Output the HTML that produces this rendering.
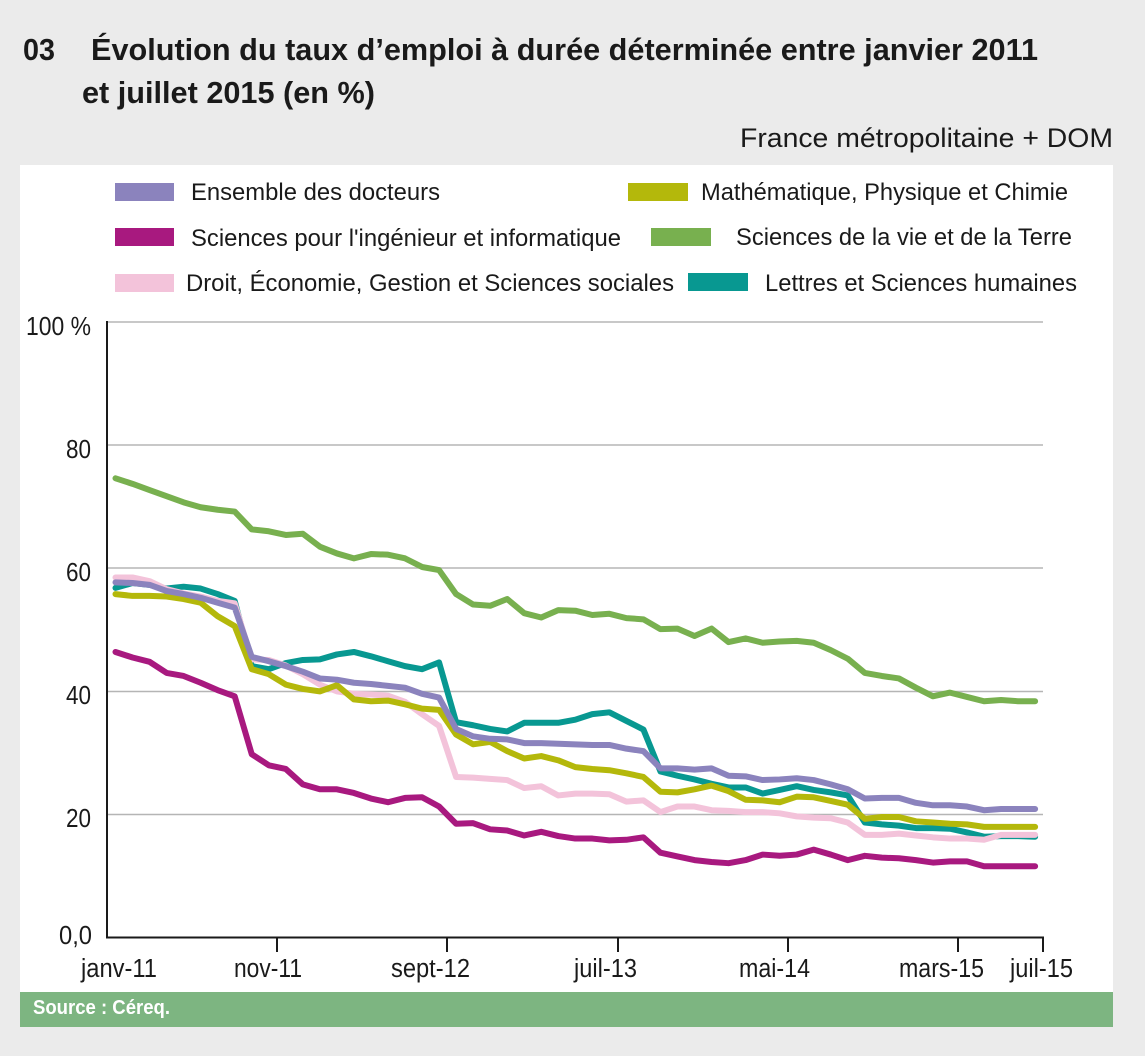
<!DOCTYPE html>
<html>
<head>
<meta charset="utf-8">
<style>
  html, body { margin: 0; padding: 0; background: #ebebeb; }
  svg { display: block; }
  text { font-family: "Liberation Sans", "DejaVu Sans", sans-serif; }
</style>
</head>
<body>
<svg width="1145" height="1056" viewBox="0 0 1145 1056" xmlns="http://www.w3.org/2000/svg">
  <rect x="0" y="0" width="1145" height="1056" fill="#ebebeb"/>

  <!-- Title -->
  <text x="23" y="60" font-size="31" font-weight="bold" fill="#1a1a1a" textLength="32" lengthAdjust="spacingAndGlyphs">03</text>
  <text x="91" y="60" font-size="31" font-weight="bold" fill="#1a1a1a" textLength="947" lengthAdjust="spacingAndGlyphs">Évolution du taux d’emploi à durée déterminée entre janvier 2011</text>
  <text x="82" y="103" font-size="31" font-weight="bold" fill="#1a1a1a" textLength="293" lengthAdjust="spacingAndGlyphs">et juillet 2015 (en %)</text>

  <text x="740" y="147" font-size="27" fill="#1a1a1a" textLength="373" lengthAdjust="spacingAndGlyphs">France métropolitaine + DOM</text>

  <!-- Panel -->
  <rect x="20" y="165" width="1093" height="827" fill="#ffffff"/>

  <!-- Legend -->
  <rect x="115" y="183" width="59" height="18" fill="#8b83bd"/>
  <text x="191" y="200" font-size="24" fill="#1a1a1a" textLength="249" lengthAdjust="spacingAndGlyphs">Ensemble des docteurs</text>
  <rect x="115" y="228" width="59" height="18" fill="#a8197f"/>
  <text x="191" y="246" font-size="24" fill="#1a1a1a" textLength="430" lengthAdjust="spacingAndGlyphs">Sciences pour l'ingénieur et informatique</text>
  <rect x="115" y="274" width="59" height="18" fill="#f3c3da"/>
  <text x="186" y="291" font-size="24" fill="#1a1a1a" textLength="488" lengthAdjust="spacingAndGlyphs">Droit, Économie, Gestion et Sciences sociales</text>

  <rect x="628" y="183" width="60" height="18" fill="#b4b80b"/>
  <text x="701" y="200" font-size="24" fill="#1a1a1a" textLength="367" lengthAdjust="spacingAndGlyphs">Mathématique, Physique et Chimie</text>
  <rect x="651" y="228" width="60" height="18" fill="#78b04f"/>
  <text x="736" y="245" font-size="24" fill="#1a1a1a" textLength="336" lengthAdjust="spacingAndGlyphs">Sciences de la vie et de la Terre</text>
  <rect x="688" y="273" width="60" height="18" fill="#089891"/>
  <text x="765" y="291" font-size="24" fill="#1a1a1a" textLength="312" lengthAdjust="spacingAndGlyphs">Lettres et Sciences humaines</text>

  <!-- Gridlines -->
  <g stroke="#b5b5b5" stroke-width="1.5">
    <line x1="107" y1="322" x2="1043" y2="322"/>
    <line x1="107" y1="445" x2="1043" y2="445"/>
    <line x1="107" y1="568" x2="1043" y2="568"/>
    <line x1="107" y1="691.5" x2="1043" y2="691.5"/>
    <line x1="107" y1="814.5" x2="1043" y2="814.5"/>
  </g>

  <!-- Y labels -->
  <g font-size="26" fill="#1a1a1a">
    <text x="26" y="335" textLength="65" lengthAdjust="spacingAndGlyphs">100 %</text>
    <text x="66" y="458" textLength="25" lengthAdjust="spacingAndGlyphs">80</text>
    <text x="66" y="581" textLength="25" lengthAdjust="spacingAndGlyphs">60</text>
    <text x="66" y="704" textLength="25" lengthAdjust="spacingAndGlyphs">40</text>
    <text x="66" y="827" textLength="25" lengthAdjust="spacingAndGlyphs">20</text>
    <text x="59" y="944" textLength="33" lengthAdjust="spacingAndGlyphs">0,0</text>
  </g>

  <!-- Series -->
  <g transform="translate(115.5,937.7) scale(17.03,-6.158)" fill="none" stroke-width="6" stroke-linejoin="round" stroke-linecap="round">
    <polyline vector-effect="non-scaling-stroke" stroke="#a8197f" points="0,46.4 1,45.5 2,44.8 3,43.0 4,42.5 5,41.4 6,40.2 7,39.2 8,29.8 9,28.0 10,27.4 11,24.9 12,24.1 13,24.1 14,23.5 15,22.6 16,22.0 17,22.7 18,22.8 19,21.3 20,18.5 21,18.6 22,17.6 23,17.4 24,16.6 25,17.2 26,16.5 27,16.1 28,16.1 29,15.8 30,15.9 31,16.3 32,13.8 33,13.2 34,12.6 35,12.3 36,12.1 37,12.6 38,13.5 39,13.3 40,13.5 41,14.3 42,13.5 43,12.6 44,13.3 45,13.0 46,12.9 47,12.6 48,12.2 49,12.4 50,12.4 51,11.6 52,11.6 53,11.6 54,11.6"/>
    <polyline vector-effect="non-scaling-stroke" stroke="#78b04f" points="0,74.6 1,73.7 2,72.7 3,71.7 4,70.7 5,69.9 6,69.5 7,69.2 8,66.3 9,66.0 10,65.4 11,65.6 12,63.5 13,62.4 14,61.6 15,62.3 16,62.2 17,61.6 18,60.2 19,59.7 20,55.8 21,54.1 22,53.9 23,55.0 24,52.7 25,52.0 26,53.2 27,53.1 28,52.4 29,52.6 30,51.9 31,51.7 32,50.1 33,50.2 34,49.0 35,50.2 36,48.0 37,48.6 38,47.9 39,48.1 40,48.2 41,47.9 42,46.7 43,45.3 44,43.0 45,42.5 46,42.1 47,40.6 48,39.2 49,39.8 50,39.1 51,38.4 52,38.6 53,38.4 54,38.4"/>
    <polyline vector-effect="non-scaling-stroke" stroke="#089891" points="0,56.8 1,57.6 2,57.3 3,56.7 4,57.0 5,56.7 6,55.8 7,54.7 8,44.1 9,43.6 10,44.6 11,45.1 12,45.2 13,46.0 14,46.4 15,45.7 16,44.9 17,44.1 18,43.6 19,44.7 20,35.0 21,34.5 22,33.9 23,33.5 24,34.9 25,34.9 26,34.9 27,35.4 28,36.3 29,36.6 30,35.2 31,33.8 32,27.0 33,26.3 34,25.7 35,25.0 36,24.4 37,24.4 38,23.4 39,24.0 40,24.6 41,24.0 42,23.6 43,23.1 44,18.7 45,18.4 46,18.2 47,17.8 48,17.8 49,17.7 50,17.1 51,16.4 52,16.5 53,16.5 54,16.4"/>
    <polyline vector-effect="non-scaling-stroke" stroke="#f3c3da" points="0,58.5 1,58.5 2,57.9 3,56.6 4,55.9 5,55.4 6,54.7 7,54.3 8,45.2 9,45.1 10,44.2 11,42.8 12,41.1 13,40.0 14,39.6 15,39.5 16,39.3 17,38.3 18,36.3 19,34.4 20,26.1 21,26.0 22,25.8 23,25.6 24,24.3 25,24.6 26,23.1 27,23.4 28,23.4 29,23.3 30,22.1 31,22.3 32,20.4 33,21.3 34,21.3 35,20.7 36,20.6 37,20.4 38,20.4 39,20.2 40,19.7 41,19.5 42,19.4 43,18.7 44,16.7 45,16.7 46,16.9 47,16.6 48,16.3 49,16.1 50,16.1 51,15.9 52,16.7 53,16.7 54,16.7"/>
    <polyline vector-effect="non-scaling-stroke" stroke="#b4b80b" points="0,55.8 1,55.5 2,55.5 3,55.4 4,55.0 5,54.4 6,52.2 7,50.6 8,43.6 9,42.8 10,41.1 11,40.4 12,40.0 13,41.0 14,38.7 15,38.4 16,38.5 17,37.9 18,37.2 19,37.0 20,33.0 21,31.4 22,31.8 23,30.3 24,29.1 25,29.5 26,28.8 27,27.7 28,27.4 29,27.2 30,26.7 31,26.1 32,23.7 33,23.6 34,24.1 35,24.7 36,23.8 37,22.4 38,22.3 39,22.0 40,22.9 41,22.8 42,22.2 43,21.6 44,19.3 45,19.6 46,19.6 47,18.9 48,18.7 49,18.5 50,18.4 51,18.0 52,18.0 53,18.0 54,18.0"/>
    <polyline vector-effect="non-scaling-stroke" stroke="#8b83bd" points="0,57.7 1,57.6 2,57.3 3,56.3 4,55.8 5,55.2 6,54.4 7,53.6 8,45.6 9,44.9 10,44.1 11,43.2 12,42.1 13,41.9 14,41.4 15,41.2 16,40.9 17,40.6 18,39.6 19,39.0 20,33.9 21,32.7 22,32.3 23,32.2 24,31.6 25,31.6 26,31.5 27,31.4 28,31.3 29,31.3 30,30.7 31,30.3 32,27.5 33,27.5 34,27.3 35,27.5 36,26.3 37,26.2 38,25.6 39,25.7 40,25.9 41,25.6 42,24.9 43,24.1 44,22.6 45,22.7 46,22.7 47,21.9 48,21.5 49,21.5 50,21.3 51,20.7 52,20.9 53,20.9 54,20.9"/>
  </g>

  <!-- Axes -->
  <g stroke="#1a1a1a" stroke-width="2" fill="none">
    <line x1="107" y1="321" x2="107" y2="938"/>
    <line x1="106" y1="937.5" x2="1044" y2="937.5"/>
    <line x1="277" y1="937" x2="277" y2="952"/>
    <line x1="447" y1="937" x2="447" y2="952"/>
    <line x1="618" y1="937" x2="618" y2="952"/>
    <line x1="788" y1="937" x2="788" y2="952"/>
    <line x1="958" y1="937" x2="958" y2="952"/>
    <line x1="1043" y1="937" x2="1043" y2="952"/>
  </g>

  <!-- X labels -->
  <g font-size="25.5" fill="#1a1a1a">
    <text x="81" y="977" textLength="76" lengthAdjust="spacingAndGlyphs">janv-11</text>
    <text x="234" y="977" textLength="68" lengthAdjust="spacingAndGlyphs">nov-11</text>
    <text x="391" y="977" textLength="79" lengthAdjust="spacingAndGlyphs">sept-12</text>
    <text x="574" y="977" textLength="63" lengthAdjust="spacingAndGlyphs">juil-13</text>
    <text x="739" y="977" textLength="71" lengthAdjust="spacingAndGlyphs">mai-14</text>
    <text x="899" y="977" textLength="85" lengthAdjust="spacingAndGlyphs">mars-15</text>
    <text x="1010" y="977" textLength="63" lengthAdjust="spacingAndGlyphs">juil-15</text>
  </g>

  <!-- Source bar -->
  <rect x="20" y="992" width="1093" height="35" fill="#7db581"/>
  <text x="33" y="1014" font-size="20" font-weight="bold" fill="#ffffff" textLength="137" lengthAdjust="spacingAndGlyphs">Source : Céreq.</text>
</svg>
</body>
</html>
